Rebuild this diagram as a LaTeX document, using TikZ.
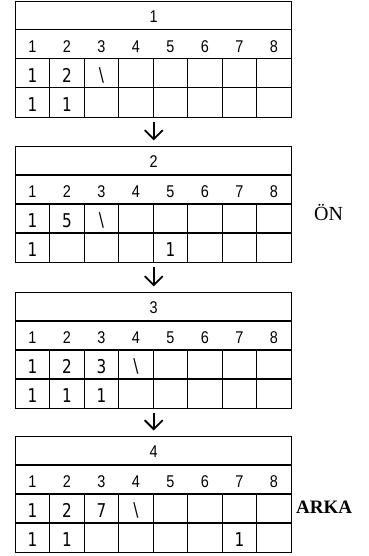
\documentclass[tikz,border=0pt]{standalone}
\usepackage{fontspec}
\setmainfont{Liberation Serif}
\newfontfamily\gridfont[FakeStretch=0.85]{Liberation Sans}
\newfontfamily\cellfont[FakeStretch=0.8]{DejaVu Sans}
\usetikzlibrary{arrows.meta}

% One 8-column table: #1 name, #2 top edge, #3 title,
% #4 entries of the upper cell row, #5 entries of the lower cell row (col/text)
\newcommand\gridtable[5]{%
  \node[tablebox] (#1) at (153.7,#2+58) {};
  \foreach \r in {29,58,87}
    \draw[rule] ([yshift=-\r pt]#1.north west) -- ([yshift=-\r pt]#1.north east);
  \foreach \i in {1,...,7}
    \draw[rule] ([xshift=\i*34.5pt,yshift=-58pt]#1.north west) -- ([xshift=\i*34.5pt]#1.south west);
  \node[titletext] (#1-title) at ([yshift=-16pt]#1.north) {#3};
  \foreach \i in {1,...,8}
    \node[headtext] (#1-h\i) at ([xshift={(\i-0.5)*34.5pt},yshift=-45.5pt]#1.north west) {\i};
  \foreach \c/\t in {#4}
    \node[celltext] (#1-a\c) at ([xshift={(\c-0.5)*34.5pt},yshift=-74.5pt]#1.north west) {\t};
  \foreach \c/\t in {#5}
    \node[celltext] (#1-b\c) at ([xshift={(\c-0.5)*34.5pt},yshift=-103.5pt]#1.north west) {\t};
}

\begin{document}
\begin{tikzpicture}[x=1pt,y=-1pt,
  tablebox/.style={draw, line width=1.1pt, minimum width=276pt, minimum height=116pt, inner sep=0pt},
  rule/.style={line width=1.1pt},
  titletext/.style={font=\gridfont\fontsize{17}{17}\selectfont, inner sep=0pt},
  headtext/.style={font=\gridfont\fontsize{17}{17}\selectfont, inner sep=0pt},
  celltext/.style={font=\cellfont\fontsize{19}{19}\selectfont, inner sep=0pt},
  flow/.style={line width=1.8pt, -{Straight Barb[length=9pt,width=18pt,line width=1.8pt]}},
  sidelabel/.style={inner sep=0pt, anchor=base west}]
\useasboundingbox (0,0) rectangle (368,556);

\gridtable{t1}{1.5}{1}{1/1,2/2,3/\textbackslash}{1/1,2/1}
\gridtable{t2}{146.5}{2}{1/1,2/5,3/\textbackslash}{1/1,5/1}
\gridtable{t3}{292.5}{3}{1/1,2/2,3/3,4/\textbackslash}{1/1,2/1,3/1}
\gridtable{t4}{436.5}{4}{1/1,2/2,3/7,4/\textbackslash}{1/1,2/1,7/1}

\draw[flow] ([yshift=-3.5pt]t1.south) -- ([yshift=5.5pt]t2.north);
\draw[flow] ([yshift=-3.5pt]t2.south) -- ([yshift=5.5pt]t3.north);
\draw[flow] ([yshift=-3.5pt]t3.south) -- ([yshift=5.5pt]t4.north);

\node[sidelabel, font=\fontsize{20}{20}\selectfont] (front) at (314,220) {ÖN};
\node[sidelabel, font=\bfseries\fontsize{19}{19}\selectfont] (back) at (296,513) {ARKA};
\end{tikzpicture}
\end{document}
